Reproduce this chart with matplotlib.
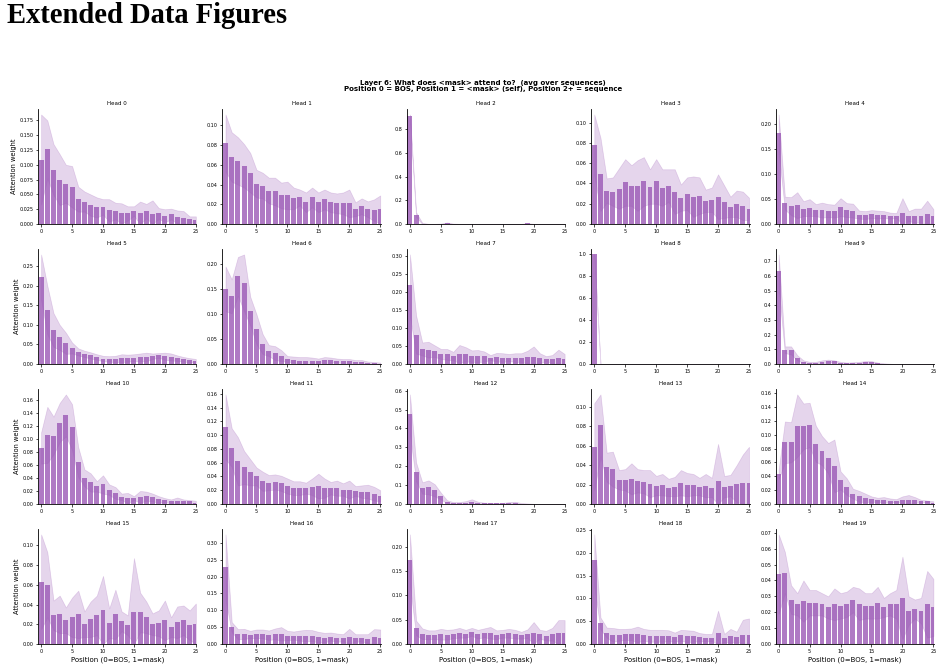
import numpy as np
import matplotlib.pyplot as plt

positions = np.arange(26)
xticks = [0, 5, 10, 15, 20, 25]
bar_color = '#9b59b6'

# mean attention per position, and mean + std (upper edge of band)
mean_0 = [0.109, 0.126, 0.092, 0.075, 0.068, 0.063, 0.042, 0.038, 0.032, 0.028, 0.029, 0.023, 0.022,
          0.018, 0.018, 0.022, 0.019, 0.022, 0.017, 0.018, 0.014, 0.017, 0.012, 0.011, 0.008, 0.007]
upper_0 = [0.185, 0.175, 0.135, 0.118, 0.100, 0.098, 0.063, 0.055, 0.050, 0.045, 0.042, 0.042, 0.036,
           0.035, 0.030, 0.030, 0.038, 0.034, 0.040, 0.027, 0.025, 0.026, 0.023, 0.022, 0.013, 0.013]
mean_1 = [0.082, 0.068, 0.064, 0.059, 0.052, 0.041, 0.039, 0.034, 0.033, 0.029, 0.029, 0.026, 0.027,
          0.022, 0.027, 0.022, 0.025, 0.022, 0.021, 0.021, 0.021, 0.015, 0.018, 0.015, 0.014, 0.015]
upper_1 = [0.111, 0.093, 0.088, 0.081, 0.072, 0.055, 0.052, 0.047, 0.047, 0.042, 0.043, 0.037, 0.035,
           0.032, 0.037, 0.032, 0.035, 0.032, 0.031, 0.032, 0.035, 0.022, 0.026, 0.023, 0.025, 0.029]
mean_2 = [0.910, 0.080, 0.004, 0.001, 0.001, 0.002, 0.010, 0.002, 0.001, 0.001, 0.001, 0.001, 0.001,
          0.001, 0.001, 0.001, 0.001, 0.001, 0.001, 0.005, 0.001, 0.001, 0.001, 0.001, 0.001, 0.001]
upper_2 = [0.925, 0.100, 0.010, 0.002, 0.002, 0.004, 0.013, 0.004, 0.002, 0.002, 0.002, 0.002, 0.002,
           0.002, 0.002, 0.002, 0.002, 0.002, 0.002, 0.008, 0.002, 0.002, 0.002, 0.002, 0.002, 0.002]
mean_3 = [0.078, 0.049, 0.033, 0.032, 0.035, 0.041, 0.038, 0.038, 0.042, 0.037, 0.042, 0.036, 0.038,
          0.032, 0.026, 0.030, 0.027, 0.028, 0.023, 0.024, 0.027, 0.022, 0.017, 0.020, 0.018, 0.015]
upper_3 = [0.108, 0.085, 0.045, 0.046, 0.055, 0.064, 0.058, 0.063, 0.066, 0.054, 0.064, 0.054, 0.054,
           0.054, 0.039, 0.046, 0.047, 0.046, 0.034, 0.036, 0.049, 0.038, 0.027, 0.033, 0.032, 0.026]
mean_4 = [0.182, 0.042, 0.036, 0.038, 0.031, 0.033, 0.028, 0.028, 0.027, 0.026, 0.034, 0.028, 0.027,
          0.019, 0.018, 0.020, 0.019, 0.019, 0.017, 0.017, 0.022, 0.016, 0.017, 0.017, 0.020, 0.016]
upper_4 = [0.220, 0.055, 0.054, 0.064, 0.046, 0.050, 0.040, 0.043, 0.040, 0.039, 0.052, 0.042, 0.041,
           0.027, 0.026, 0.028, 0.027, 0.026, 0.023, 0.022, 0.052, 0.026, 0.031, 0.031, 0.047, 0.030]
mean_5 = [0.222, 0.138, 0.087, 0.068, 0.053, 0.041, 0.031, 0.026, 0.022, 0.018, 0.014, 0.013, 0.013,
          0.015, 0.015, 0.016, 0.017, 0.018, 0.020, 0.022, 0.020, 0.018, 0.015, 0.012, 0.010, 0.008]
upper_5 = [0.280, 0.200, 0.130, 0.100, 0.080, 0.055, 0.040, 0.034, 0.030, 0.025, 0.021, 0.020, 0.021,
           0.025, 0.024, 0.025, 0.027, 0.029, 0.027, 0.028, 0.029, 0.027, 0.022, 0.018, 0.015, 0.013]
mean_6 = [0.151, 0.136, 0.176, 0.163, 0.106, 0.070, 0.040, 0.027, 0.022, 0.017, 0.010, 0.009, 0.007,
          0.007, 0.007, 0.007, 0.008, 0.008, 0.007, 0.006, 0.006, 0.005, 0.005, 0.003, 0.002, 0.001]
upper_6 = [0.196, 0.170, 0.215, 0.220, 0.135, 0.100, 0.060, 0.038, 0.036, 0.028, 0.016, 0.015, 0.014,
           0.014, 0.013, 0.011, 0.014, 0.013, 0.011, 0.010, 0.010, 0.008, 0.008, 0.005, 0.004, 0.003]
mean_7 = [0.219, 0.082, 0.042, 0.040, 0.036, 0.028, 0.027, 0.022, 0.028, 0.027, 0.022, 0.022, 0.021,
          0.018, 0.019, 0.018, 0.018, 0.018, 0.018, 0.019, 0.020, 0.016, 0.015, 0.013, 0.016, 0.014]
upper_7 = [0.305, 0.135, 0.060, 0.062, 0.052, 0.042, 0.042, 0.034, 0.053, 0.047, 0.038, 0.039, 0.035,
           0.025, 0.031, 0.030, 0.028, 0.030, 0.030, 0.037, 0.049, 0.030, 0.022, 0.025, 0.040, 0.028]
mean_8 = [1.000] + [0.0] * 25
upper_8 = [1.000] + [0.0] * 25
mean_9 = [0.630, 0.097, 0.093, 0.042, 0.017, 0.010, 0.010, 0.015, 0.020, 0.018, 0.010, 0.007, 0.007,
          0.010, 0.012, 0.013, 0.005, 0.002, 0.001, 0.0, 0.0, 0.0, 0.0, 0.0, 0.0, 0.0]
upper_9 = [0.745, 0.120, 0.120, 0.060, 0.025, 0.015, 0.015, 0.025, 0.030, 0.025, 0.015, 0.010, 0.012,
           0.015, 0.020, 0.020, 0.010, 0.005, 0.002, 0.0, 0.0, 0.0, 0.0, 0.0, 0.0, 0.0]
mean_10 = [0.086, 0.106, 0.105, 0.125, 0.136, 0.118, 0.064, 0.040, 0.033, 0.027, 0.030, 0.022, 0.017,
           0.011, 0.009, 0.009, 0.011, 0.012, 0.010, 0.007, 0.006, 0.004, 0.005, 0.004, 0.004, 0.002]
upper_10 = [0.110, 0.149, 0.134, 0.155, 0.168, 0.153, 0.087, 0.053, 0.047, 0.035, 0.044, 0.030, 0.026,
            0.016, 0.017, 0.012, 0.020, 0.019, 0.016, 0.012, 0.009, 0.007, 0.010, 0.007, 0.006, 0.005]
mean_11 = [0.112, 0.082, 0.062, 0.053, 0.046, 0.040, 0.033, 0.031, 0.032, 0.030, 0.026, 0.023, 0.023,
           0.023, 0.025, 0.026, 0.023, 0.023, 0.023, 0.021, 0.021, 0.019, 0.018, 0.018, 0.015, 0.012]
upper_11 = [0.159, 0.110, 0.097, 0.077, 0.065, 0.053, 0.047, 0.042, 0.043, 0.041, 0.037, 0.033, 0.033,
            0.031, 0.037, 0.044, 0.037, 0.032, 0.034, 0.030, 0.034, 0.026, 0.027, 0.028, 0.025, 0.020]
mean_12 = [0.475, 0.170, 0.085, 0.088, 0.073, 0.042, 0.012, 0.006, 0.006, 0.007, 0.013, 0.007, 0.004,
           0.003, 0.003, 0.003, 0.006, 0.006, 0.002, 0.001, 0.0, 0.0, 0.0, 0.0, 0.0, 0.0]
upper_12 = [0.580, 0.220, 0.115, 0.125, 0.105, 0.060, 0.020, 0.010, 0.010, 0.015, 0.025, 0.012, 0.007,
            0.006, 0.006, 0.006, 0.010, 0.012, 0.005, 0.003, 0.001, 0.0, 0.0, 0.0, 0.0, 0.0]
mean_13 = [0.059, 0.081, 0.038, 0.036, 0.025, 0.025, 0.026, 0.024, 0.023, 0.021, 0.019, 0.020, 0.017,
           0.018, 0.022, 0.020, 0.020, 0.018, 0.019, 0.017, 0.024, 0.018, 0.019, 0.021, 0.022, 0.022]
upper_13 = [0.104, 0.113, 0.053, 0.054, 0.035, 0.036, 0.042, 0.036, 0.035, 0.035, 0.029, 0.031, 0.026,
            0.028, 0.035, 0.032, 0.031, 0.027, 0.031, 0.027, 0.062, 0.029, 0.030, 0.040, 0.051, 0.059]
mean_14 = [0.043, 0.089, 0.089, 0.113, 0.112, 0.114, 0.087, 0.077, 0.066, 0.055, 0.034, 0.025, 0.015,
           0.011, 0.009, 0.007, 0.006, 0.006, 0.005, 0.005, 0.006, 0.006, 0.006, 0.004, 0.004, 0.002]
upper_14 = [0.050, 0.119, 0.118, 0.158, 0.145, 0.146, 0.113, 0.098, 0.088, 0.093, 0.047, 0.037, 0.022,
            0.019, 0.015, 0.011, 0.009, 0.010, 0.008, 0.007, 0.011, 0.013, 0.010, 0.006, 0.005, 0.004]
mean_15 = [0.063, 0.060, 0.029, 0.030, 0.024, 0.027, 0.030, 0.020, 0.025, 0.029, 0.034, 0.021, 0.030,
           0.023, 0.019, 0.032, 0.032, 0.027, 0.020, 0.021, 0.024, 0.017, 0.022, 0.024, 0.019, 0.020]
upper_15 = [0.111, 0.093, 0.044, 0.049, 0.037, 0.047, 0.054, 0.033, 0.043, 0.049, 0.069, 0.036, 0.055,
            0.033, 0.029, 0.087, 0.052, 0.043, 0.031, 0.034, 0.044, 0.027, 0.038, 0.039, 0.034, 0.041]
mean_16 = [0.228, 0.050, 0.029, 0.030, 0.028, 0.030, 0.030, 0.026, 0.030, 0.030, 0.025, 0.025, 0.025,
           0.025, 0.025, 0.020, 0.019, 0.022, 0.019, 0.018, 0.022, 0.018, 0.018, 0.016, 0.020, 0.017]
upper_16 = [0.325, 0.065, 0.044, 0.045, 0.039, 0.043, 0.043, 0.040, 0.046, 0.050, 0.039, 0.037, 0.040,
            0.042, 0.041, 0.036, 0.033, 0.034, 0.031, 0.029, 0.045, 0.029, 0.029, 0.029, 0.044, 0.043]
mean_17 = [0.173, 0.033, 0.021, 0.019, 0.019, 0.020, 0.019, 0.021, 0.023, 0.021, 0.025, 0.020, 0.023,
           0.023, 0.019, 0.021, 0.022, 0.020, 0.018, 0.021, 0.023, 0.020, 0.017, 0.020, 0.023, 0.022]
upper_17 = [0.225, 0.048, 0.032, 0.028, 0.028, 0.031, 0.029, 0.030, 0.033, 0.029, 0.033, 0.029, 0.032,
            0.035, 0.028, 0.029, 0.031, 0.029, 0.025, 0.030, 0.045, 0.029, 0.027, 0.033, 0.049, 0.049]
mean_18 = [0.183, 0.045, 0.025, 0.020, 0.020, 0.021, 0.021, 0.021, 0.020, 0.018, 0.018, 0.018, 0.018,
           0.015, 0.019, 0.017, 0.017, 0.015, 0.014, 0.014, 0.025, 0.013, 0.018, 0.016, 0.020, 0.020]
upper_18 = [0.240, 0.058, 0.036, 0.035, 0.033, 0.033, 0.034, 0.038, 0.033, 0.031, 0.031, 0.031, 0.030,
            0.025, 0.031, 0.030, 0.029, 0.024, 0.022, 0.022, 0.073, 0.022, 0.033, 0.027, 0.053, 0.056]
mean_19 = [0.044, 0.045, 0.028, 0.025, 0.027, 0.026, 0.026, 0.025, 0.023, 0.025, 0.024, 0.025, 0.028,
           0.025, 0.024, 0.024, 0.026, 0.023, 0.025, 0.025, 0.029, 0.021, 0.022, 0.021, 0.025, 0.023]
upper_19 = [0.069, 0.058, 0.037, 0.032, 0.040, 0.034, 0.034, 0.032, 0.030, 0.035, 0.032, 0.033, 0.036,
            0.035, 0.032, 0.032, 0.036, 0.029, 0.032, 0.034, 0.055, 0.030, 0.028, 0.029, 0.046, 0.041]

means = [mean_0, mean_1, mean_2, mean_3, mean_4, mean_5, mean_6, mean_7, mean_8, mean_9,
         mean_10, mean_11, mean_12, mean_13, mean_14, mean_15, mean_16, mean_17, mean_18, mean_19]
uppers = [upper_0, upper_1, upper_2, upper_3, upper_4, upper_5, upper_6, upper_7, upper_8, upper_9,
          upper_10, upper_11, upper_12, upper_13, upper_14, upper_15, upper_16, upper_17, upper_18, upper_19]

plt.rcParams['xtick.labelsize'] = 3.5
plt.rcParams['ytick.labelsize'] = 3.5
plt.rcParams['xtick.major.size'] = 1.8
plt.rcParams['ytick.major.size'] = 1.8
plt.rcParams['xtick.major.width'] = 0.5
plt.rcParams['ytick.major.width'] = 0.5
plt.rcParams['xtick.major.pad'] = 1.5
plt.rcParams['ytick.major.pad'] = 1.5
plt.rcParams['axes.linewidth'] = 0.6

fig, axes = plt.subplots(4, 5, figsize=(9.44, 6.69), dpi=100)
fig.subplots_adjust(left=0.0403, right=0.9894, top=0.837, bottom=0.0374, wspace=0.164, hspace=0.217)

for i, ax in enumerate(axes.flat):
    m = np.array(means[i])
    sd = np.array(uppers[i]) - m
    ax.bar(positions, m, width=0.8, color=bar_color, alpha=0.8)
    ax.fill_between(positions, np.clip(m - sd, 0, None), m + sd, color=bar_color, alpha=0.25, linewidth=0.5)
    ax.set_title(f'Head {i}', fontsize=4, pad=3)
    ax.set_xlim(-0.5, 25.1)
    ax.set_xticks(xticks)
    ax.spines[['top', 'right']].set_visible(False)
    if i % 5 == 0:
        ax.set_ylabel('Attention weight', fontsize=4.8, labelpad=2)
    if i >= 15:
        ax.set_xlabel('Position (0=BOS, 1=mask)', fontsize=5, labelpad=2)

fig.suptitle('Layer 6: What does <mask> attend to?  (avg over sequences)\n'
             'Position 0 = BOS, Position 1 = <mask> (self), Position 2+ = sequence',
             x=0.512, y=1 - 80 / 669, fontsize=5, fontweight='bold', va='top', linespacing=1.1)
fig.text(7 / 944, 1 - 2 / 669, 'Extended Data Figures', fontsize=20.6, fontweight='bold',
         family='Liberation Serif', va='top', ha='left')

fig.savefig('out.png', dpi=100)
